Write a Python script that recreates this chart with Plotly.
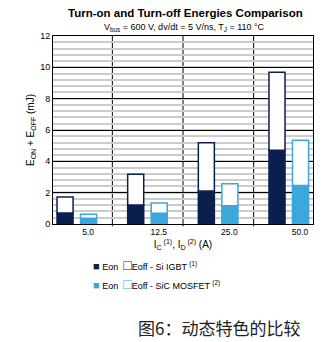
import plotly.graph_objects as go

categories = ["5.0", "12.5", "25.0", "50.0"]
igbt_eon = [0.70, 1.21, 2.10, 4.70]
igbt_total = [1.72, 3.18, 5.19, 9.68]
sic_eon = [0.36, 0.68, 1.17, 2.45]
sic_total = [0.62, 1.34, 2.57, 5.34]
y_ticks = [0, 2, 4, 6, 8, 10, 12]

NAVY = "#0b1f4f"
BLUE = "#3aa8dc"
FONT = "Arial, Liberation Sans, sans-serif"

W_PX, H_PX = 323, 342
ML, MR, MT, MB = 53, 10, 36, 118
pw, ph = W_PX - ML - MR, H_PX - MT - MB


def px(xp, yp):
    """pixel position (from top-left) -> paper coordinates"""
    return (xp - ML) / pw, ((H_PX - yp) - MB) / ph


pos = list(range(len(categories)))
igbt_eoff = [t - e for t, e in zip(igbt_total, igbt_eon)]
sic_eoff = [t - e for t, e in zip(sic_total, sic_eon)]

W = 0.227
fig = go.Figure()
fig.add_trace(go.Bar(x=pos, y=igbt_eon, width=W, offset=-0.283,
                     marker=dict(color=NAVY, line=dict(color=NAVY, width=1.5)), showlegend=False))
fig.add_trace(go.Bar(x=pos, y=igbt_eoff, base=igbt_eon, width=W, offset=-0.283,
                     marker=dict(color="white", line=dict(color=NAVY, width=1.5)), showlegend=False))
fig.add_trace(go.Bar(x=pos, y=sic_eon, width=W, offset=0.05,
                     marker=dict(color=BLUE, line=dict(color=BLUE, width=1.5)), showlegend=False))
fig.add_trace(go.Bar(x=pos, y=sic_eoff, base=sic_eon, width=W, offset=0.05,
                     marker=dict(color="white", line=dict(color=BLUE, width=1.5)), showlegend=False))

shapes = []
for i in range(len(categories) - 1):
    shapes.append(dict(type="line", xref="x", yref="paper", x0=i + 0.5, x1=i + 0.5,
                       y0=-0.012, y1=1, line=dict(color="black", width=1), layer="below"))
shapes.append(dict(type="line", xref="paper", yref="y", x0=0, x1=1, y0=2, y1=2,
                   line=dict(color="#7f7f7f", width=2), layer="below"))

anns = []
x, y = px(185, 13)
anns.append(dict(text="<b>Turn-on and Turn-off Energies Comparison</b>", x=x, y=y,
                 xref="paper", yref="paper", showarrow=False, yanchor="middle",
                 font=dict(size=11.5, family=FONT)))
x, y = px(184, 28)
anns.append(dict(text="V<sub>bus</sub> = 600 V, dv/dt = 5 V/ns, T<sub>J</sub> = 110 °C", x=x, y=y,
                 xref="paper", yref="paper", showarrow=False, yanchor="middle",
                 font=dict(size=9, family=FONT)))

legend_rows = [
    (265, NAVY, "Eoff - Si IGBT <sup>(1)</sup>"),
    (284, BLUE, "Eoff - SiC MOSFET <sup>(2)</sup>"),
]
for yp, col, t2 in legend_rows:
    x, y = px(91, yp)
    anns.append(dict(
        text=(f"<span style='color:{col};font-size:11px'>■</span> Eon  "
              f"<span style='color:{col};font-size:14px'>□</span>{t2}"),
        x=x, y=y, xref="paper", yref="paper", xanchor="left", yanchor="middle",
        showarrow=False, font=dict(size=9, family=FONT)))

x, y = px(219, 327)
anns.append(dict(text="图6：动态特色的比较", x=x, y=y, xref="paper", yref="paper",
                 showarrow=False, yanchor="middle",
                 font=dict(size=17, family="Noto Sans CJK SC", color="#222222")))

fig.update_layout(
    width=W_PX, height=H_PX,
    margin=dict(l=ML, r=MR, t=MT, b=MB),
    paper_bgcolor="white", plot_bgcolor="white",
    barmode="overlay",
    font=dict(family=FONT, color="black", size=9),
    shapes=shapes,
    annotations=anns,
    xaxis=dict(range=[-0.34, len(categories) - 1 + 0.34],
               tickvals=[p + 0.156 for p in pos], ticktext=categories,
               showgrid=False, zeroline=False, showline=True, linecolor="black", linewidth=1,
               mirror=True, ticks="", tickfont=dict(size=8.5, family=FONT),
               title=dict(text="I<sub>C</sub><sup> (1)</sup>, I<sub>D</sub><sup> (2)</sup> (A)",
                          font=dict(size=10, family=FONT), standoff=4)),
    yaxis=dict(range=[0, 12], tickvals=y_ticks, showgrid=True, gridcolor="black", gridwidth=1,
               zeroline=False, showline=True, linecolor="black", linewidth=1, mirror=True,
               ticks="", tickfont=dict(size=9, family=FONT),
               minor=dict(dtick=0.4, showgrid=True, gridcolor="#cccccc", gridwidth=2),
               title=dict(text="E<sub>ON</sub> + E<sub>OFF</sub> (mJ)",
                          font=dict(size=10, family=FONT), standoff=3)),
)

fig.write_html("out.html")
